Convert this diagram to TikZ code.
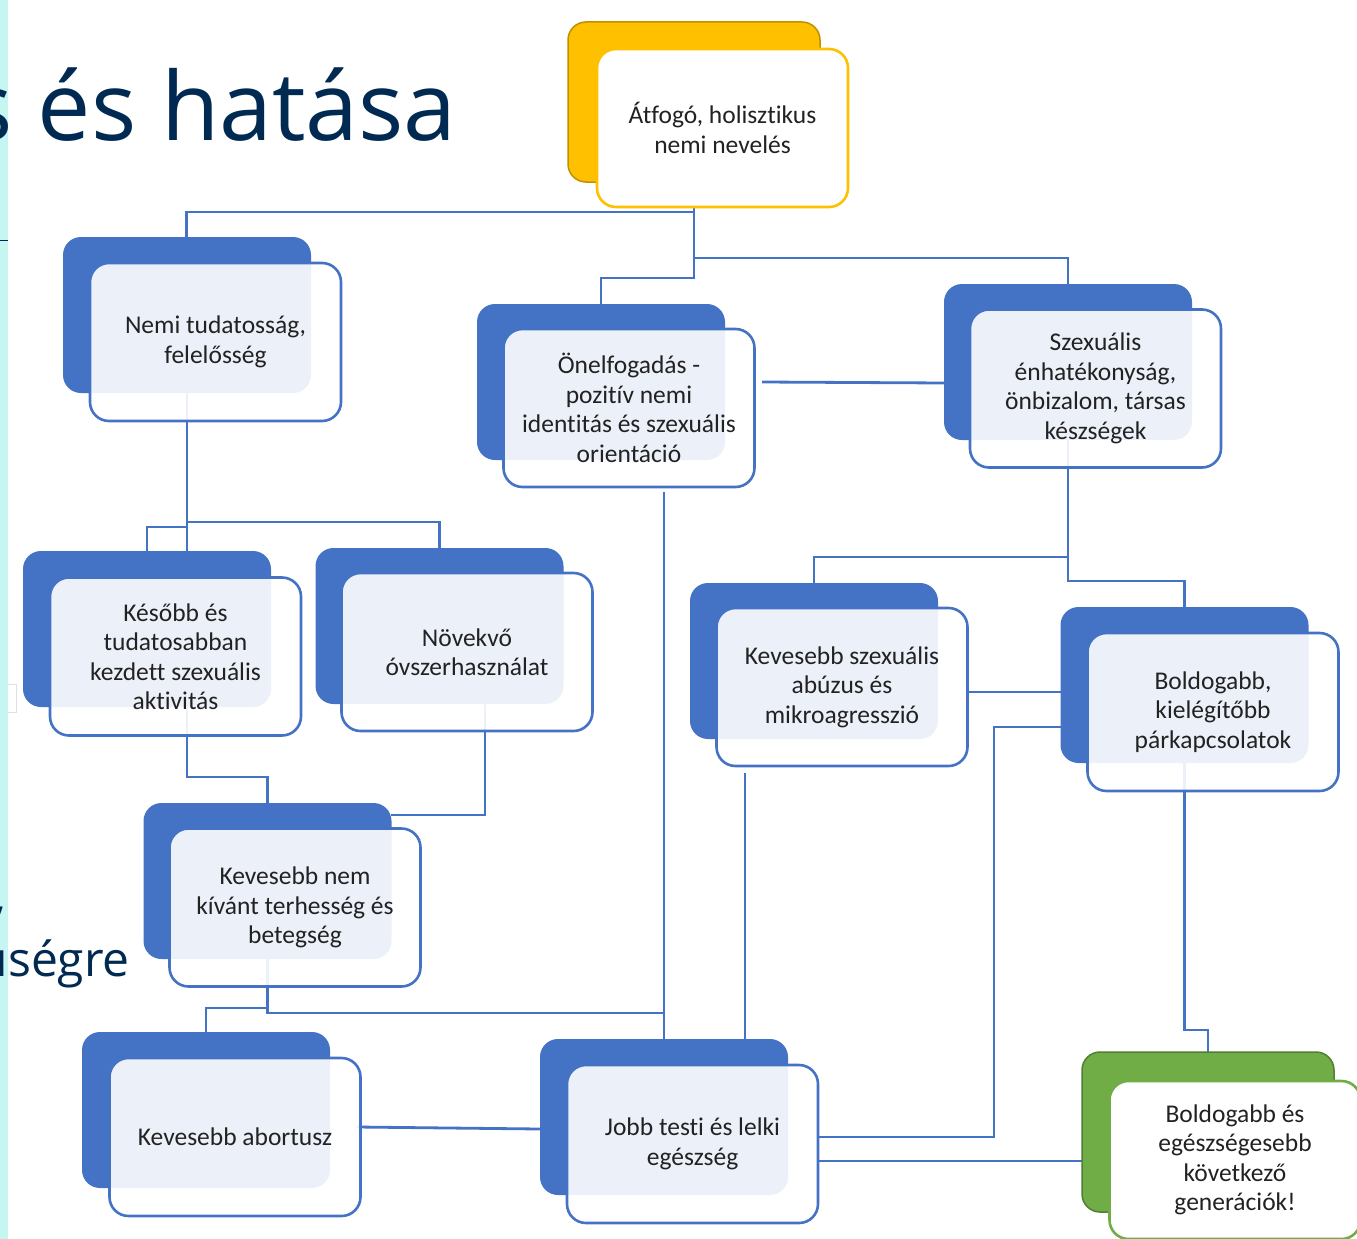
\documentclass[tikz,border=0pt]{standalone}
\usepackage{fontspec}
\setmainfont{Carlito}[Ligatures={NoCommon}]
\newfontfamily\titlefont{Open Sans}
\definecolor{cblue}{HTML}{4472C4}
\definecolor{cyellow}{HTML}{FFC000}
\definecolor{cyellowd}{HTML}{BF9000}
\definecolor{cgreen}{HTML}{70AD47}
\definecolor{cgreend}{HTML}{507E32}
\definecolor{navy}{HTML}{012A52}
\definecolor{strip}{HTML}{C5F6F1}
\definecolor{txt}{HTML}{222222}
\tikzset{
  x=1pt,y=-1pt,
  backbox/.style={rectangle,rounded corners=18pt,minimum width=248pt,minimum height=156pt,inner sep=0pt,fill=cblue},
  frontbox/.style={rectangle,rounded corners=19pt,minimum width=251pt,minimum height=158pt,inner sep=0pt,
     draw=cblue,line width=2.6pt,fill=white,fill opacity=0.9,text opacity=1,text=txt,align=center,
     font=\fontsize{25.5}{29.5}\selectfont},
  conn/.style={draw=cblue,line width=2.8pt},
}
\begin{document}
\begin{tikzpicture}
\useasboundingbox (0,0) rectangle (1357,1239);
\clip (0,0) rectangle (1357,1239);
\fill[white] (0,0) rectangle (1357,1239);
% left strip and title fragments
\fill[strip] (0,0) rectangle (8.3,1239);
\draw[navy,line width=1pt] (0,240) -- (8,240);
\draw[gray!25,line width=1pt] (8,684) -- (16,684) -- (16,712) -- (8,712);
\node[anchor=base east,inner sep=0pt,text=navy,font=\titlefont\fontsize{95}{100}\selectfont] (title) at (457,140) {s és hatása};
\node[anchor=base east,inner sep=0pt,text=navy,font=\titlefont\fontsize{48}{52}\selectfont] (sub) at (130,976) {úségre};
\node[anchor=base east,inner sep=0pt,text=navy,font=\titlefont\fontsize{48}{52}\selectfont] (subb) at (6,912) {,};

% named joints
\coordinate (y1) at (694,212);
\coordinate (y2) at (694,278);
\coordinate (y3) at (694,258);
\coordinate (a0) at (187,320);
\coordinate (a1) at (187,522);
\coordinate (a2) at (187,527);
\coordinate (d0) at (187,700);
\coordinate (d1) at (187,777);
\coordinate (e0) at (485,700);
\coordinate (e1) at (485,815);
\coordinate (h0) at (267.5,900);
\coordinate (h1) at (267.5,1008);
\coordinate (h2) at (267.5,1013);
\coordinate (b0) at (664,492);
\coordinate (b1) at (762,382);
\coordinate (i1) at (357,1127);
\coordinate (c0) at (1068,420);
\coordinate (c1) at (1068,557);
\coordinate (c2) at (1068,581);
\coordinate (f1) at (967,692);
\coordinate (f2) at (745,773);
\coordinate (j1) at (818,1137);
\coordinate (j2) at (994,727);
\coordinate (j3) at (818,1161);
\coordinate (g0) at (1184.5,760);
\coordinate (g1) at (1184.5,1030);
\coordinate (y0) at (694,150);

% connectors (behind boxes)
\draw[conn] (y0) -- (y1) -| (186.5,238);
\draw[conn] (y1) -- (y2) -| (601,304);
\draw[conn] (y3) -| (1068,284);
\draw[conn] (a0) -- (187,551);
\draw[conn] (a1) -| (439.5,548);
\draw[conn] (a2) -| (147,551);
\draw[conn] (d0) -- (d1) -| (267.5,803);
\draw[conn] (e0) -- (e1) -- (391,815);
\draw[conn] (h0) -- (h1) -| (206,1032);
\draw[conn] (h1) -- (h2) -| (664,1039);
\draw[conn] (b0) -- (664,1039);
\draw[conn] (b1) -- (945,383);
\draw[conn] (i1) -- (540,1129);
\draw[conn] (c0) -- (c1) -| (814,583);
\draw[conn] (c1) -- (c2) -| (1184.5,607);
\draw[conn] (f1) -- (1061,692);
\draw[conn] (f2) -- (745,1039);
\draw[conn] (j1) -| (j2) -- (1061,727);
\draw[conn] (j3) -- (1082,1161);
\draw[conn] (g0) -- (g1) -| (1208,1052);

% back boxes
\node[backbox,fill=cyellow,draw=cyellowd,line width=1.5pt,minimum width=252pt,minimum height=160pt] (Yb) at (694,102) {};
\node[backbox] (Ab) at (187,315) {};
\node[backbox] (Bb) at (601,382) {};
\node[backbox] (Cb) at (1068,362) {};
\node[backbox] (Db) at (147,629) {};
\node[backbox] (Eb) at (439.5,626) {};
\node[backbox] (Fb) at (814,661) {};
\node[backbox] (Gb) at (1184.5,685) {};
\node[backbox] (Hb) at (267.5,881) {};
\node[backbox] (Ib) at (206,1110) {};
\node[backbox] (Jb) at (664,1117) {};
\node[backbox,fill=cgreen,draw=cgreend,line width=1.5pt,minimum width=252pt,minimum height=160pt] (Kb) at (1208,1132) {};

% front boxes
\node[frontbox,draw=cyellow,fill opacity=1] (Yf) at (722.5,128) {Átfogó, holisztikus\\nemi nevelés};
\node[frontbox] (Af) at (215.5,342) {Nemi tudatosság,\\felelősség};
\node[frontbox] (Bf) at (629,408) {Önelfogadás -\\pozitív nemi\\identitás és szexuális\\orientáció};
\node[frontbox] (Cf) at (1095.5,388.5) {Szexuális\\énhatékonyság,\\önbizalom, társas\\készségek};
\node[frontbox] (Df) at (175.5,656.5) {Később és\\tudatosabban\\kezdett szexuális\\aktivitás};
\node[frontbox] (Ef) at (467,652) {Növekvő\\óvszerhasználat};
\node[frontbox] (Ff) at (842,687) {Kevesebb szexuális\\abúzus és\\mikroagresszió};
\node[frontbox] (Gf) at (1213,712) {Boldogabb,\\kielégítőbb\\párkapcsolatok};
\node[frontbox] (Hf) at (295,907.5) {Kevesebb nem\\kívánt terhesség és\\betegség};
\node[frontbox] (If) at (235,1137) {Kevesebb abortusz};
\node[frontbox] (Jf) at (692.5,1144) {Jobb testi és lelki\\egészség};
\node[frontbox,draw=cgreen,fill opacity=1] (Kf) at (1235,1160) {Boldogabb és\\egészségesebb\\következő\\generációk!};
\end{tikzpicture}
\end{document}
